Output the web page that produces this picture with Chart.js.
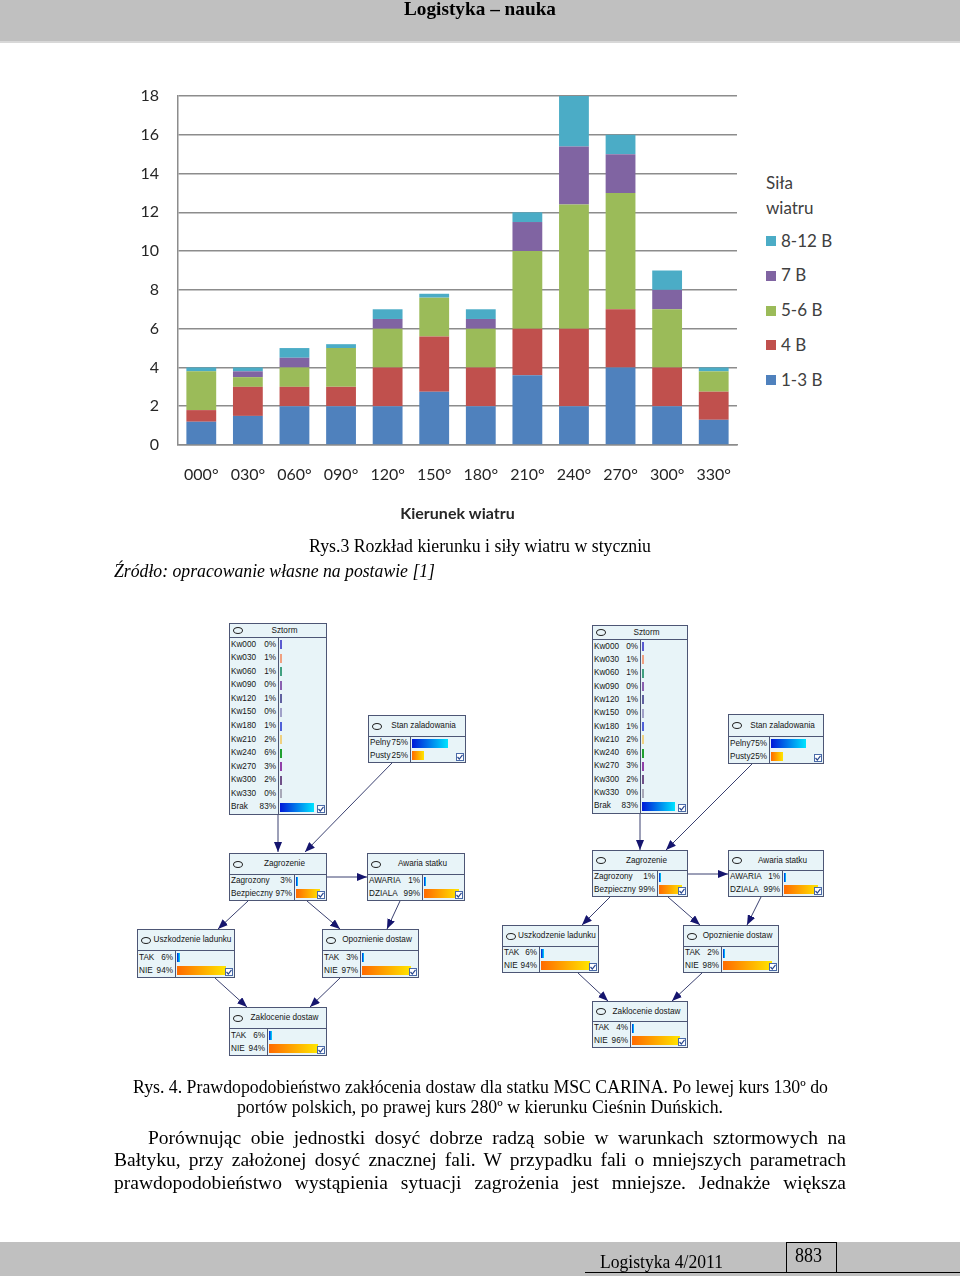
<!DOCTYPE html>
<html lang="pl">
<head>
<meta charset="utf-8">
<title>Rozkład kierunku i siły wiatru</title>
<script src="https://cdn.jsdelivr.net/npm/chart.js@4.4.0/dist/chart.umd.min.js"></script>
<style>
html,body{margin:0;padding:0;background:#fff;}
#page{position:relative;width:960px;height:1276px;overflow:hidden;background:#fff;font-family:'Liberation Serif','Times New Roman',serif;color:#000;}
.t{position:absolute;white-space:nowrap;line-height:1;transform-origin:0 0;}
#hdr{position:absolute;left:0;top:0;width:960px;height:41px;background:#c0c0c0;border-bottom:2px solid #d8d8d8;}
#ftr{position:absolute;left:0;top:1242px;width:960px;height:34px;background:#c0c0c0;}
#ftrline{position:absolute;left:585px;top:1272px;width:375px;height:1px;background:#000;}
#pgbox{position:absolute;left:786px;top:1242px;width:49px;height:30px;border:1px solid #000;border-bottom:none;}
#chartWrap{position:absolute;left:110px;top:80px;width:650px;height:450px;}
#legend{position:absolute;left:0;top:0;width:960px;height:0;font-family:Lato,sans-serif;color:#404040;}
.lg{position:absolute;white-space:nowrap;font-size:17px;line-height:1;}
.sw{position:absolute;width:10px;height:10px;}
.node{position:absolute;background:#e8f4f8;border:1px solid #4d5675;box-sizing:border-box;font-family:'Liberation Sans',Arial,sans-serif;font-size:8.2px;color:#151515;}
.nh{position:absolute;left:0;top:0;right:0;border-bottom:1px solid #4d5675;}
.nh .ell{position:absolute;left:3px;width:10px;height:7px;border:1px solid #222;border-radius:50%;box-sizing:border-box;}
.nh .tt{position:absolute;left:14px;right:1px;text-align:center;white-space:nowrap;line-height:1;}
.lc{position:absolute;left:0;border-right:1px solid #4d5675;box-sizing:border-box;}
.rl{position:absolute;left:1px;white-space:nowrap;line-height:1;}
.rp{position:absolute;white-space:nowrap;line-height:1;text-align:right;}
.bar{position:absolute;height:9px;}
.cb{position:absolute;right:1px;bottom:1px;width:8px;height:8px;background:#fff;border:1px solid #4a6aa8;box-sizing:border-box;}
#arrows{position:absolute;left:0;top:0;width:960px;height:1276px;pointer-events:none;}
</style>
</head>
<body>
<div id="page">
  <div id="hdr"></div>
  <div id="chartWrap"><canvas id="c"></canvas></div>
  <div id="legend"></div>
  <div id="nodes"></div>
  <svg id="arrows" xmlns="http://www.w3.org/2000/svg">
    <defs>
      <marker id="ah" markerWidth="10" markerHeight="8" refX="10" refY="4" orient="auto" markerUnits="userSpaceOnUse">
        <path d="M0,0 L10,4 L0,8 z" fill="#15156e"/>
      </marker>
    </defs>
  </svg>
  <div id="ftr"></div>
  <div id="pgbox"></div>
  <div id="ftrline"></div>
</div>
<script>
// ---------------- chart data ----------------
const directions = ['000°','030°','060°','090°','120°','150°','180°','210°','240°','270°','300°','330°'];
const force13  = [1.2, 1.5, 2.0, 2.0, 2.0, 2.75, 2.0, 3.6, 2.0, 4.0, 2.0, 1.3];
const force4   = [0.6, 1.5, 1.0, 1.0, 2.0, 2.85, 2.0, 2.4, 4.0, 3.0, 2.0, 1.45];
const force56  = [2.0, 0.5, 1.0, 2.0, 2.0, 2.0, 2.0, 4.0, 6.4, 6.0, 3.0, 1.05];
const force7   = [0.0, 0.3, 0.5, 0.0, 0.5, 0.0, 0.5, 1.5, 3.0, 2.0, 1.0, 0.0];
const force812 = [0.2, 0.2, 0.5, 0.2, 0.5, 0.2, 0.5, 0.5, 2.6, 1.0, 1.0, 0.2];
const seriesNames = ['1-3 B','4 B','5-6 B','7 B','8-12 B'];
const yTickMax = 18;
const yTickStep = 2;

// ---------------- network data ----------------
const sztormStates = ['Kw000','Kw030','Kw060','Kw090','Kw120','Kw150','Kw180','Kw210','Kw240','Kw270','Kw300','Kw330','Brak'];
const sztormPct    = [0,1,1,0,1,0,1,2,6,3,2,0,83];
const stanStates   = ['Pelny','Pusty'];
const stanPct      = [75,25];
const zagrStates   = ['Zagrozony','Bezpieczny'];
const zagrPctLeft  = [3,97];
const zagrPctRight = [1,99];
const awariaStates = ['AWARIA','DZIALA'];
const awariaPct    = [1,99];
const takNie       = ['TAK','NIE'];
const uszkPct      = [6,94];
const opozPctLeft  = [3,97];
const opozPctRight = [2,98];
const zaklPctLeft  = [6,94];
const zaklPctRight = [4,96];

// ---------------- chart ----------------
const colors = ['#4F81BD','#C0504D','#9BBB59','#8064A2','#4BACC6'];
const seriesValues = [force13, force4, force56, force7, force812];
Chart.defaults.font.family = 'Lato, sans-serif';
const gridCol = '#8c8c8c';
const chart = new Chart(document.getElementById('c'), {
  type: 'bar',
  data: {
    labels: directions,
    datasets: seriesNames.map((n, i) => ({label: n, data: seriesValues[i], backgroundColor: colors[i], borderWidth: 0}))
  },
  options: {
    responsive: true, maintainAspectRatio: false, animation: false,
    layout: {padding: {top: 16, right: 23, left: 0, bottom: 0}},
    datasets: {bar: {barPercentage: 0.64, categoryPercentage: 1}},
    plugins: {legend: {display: false}, tooltip: {enabled: false}},
    scales: {
      x: {
        stacked: true,
        grid: {display: false, drawTicks: false},
        border: {display: true, color: gridCol, width: 1.5},
        ticks: {padding: 20, font: {size: 16}, color: '#262626', maxRotation: 0, autoSkip: false},
        title: {display: true, text: 'Kierunek wiatru', font: {size: 16, weight: 'bold'}, color: '#262626', padding: {top: 0, bottom: 7}},
        afterFit(s) { s.height = 85; s.paddingLeft = 0; s.paddingRight = 0; }
      },
      y: {
        stacked: true, min: 0, max: yTickMax,
        ticks: {stepSize: yTickStep, padding: 19, font: {size: 16}, color: '#262626'},
        grid: {color: gridCol, lineWidth: 1.5, drawTicks: false},
        border: {display: true, color: gridCol, width: 1.5},
        afterFit(s) { s.width = 68; s.paddingTop = 0; s.paddingBottom = 0; }
      }
    }
  }
});

// HTML legend built from the chart datasets (reversed, like the source)
(function buildLegend() {
  const lg = document.getElementById('legend');
  const mk = (txt, left, yc) => { const s = document.createElement('div'); s.className = 'lg'; s.textContent = txt; s.style.left = left + 'px'; s.style.top = (yc - 9.5) + 'px'; lg.appendChild(s); };
  mk('Siła', 766, 183);
  mk('wiatru', 766, 208);
  const ds = chart.data.datasets.slice().reverse();
  ds.forEach((d, i) => {
    const yc = 241 + i * 34.75;
    const sw = document.createElement('div'); sw.className = 'sw';
    sw.style.left = '766px'; sw.style.top = (yc - 5) + 'px'; sw.style.background = d.backgroundColor;
    lg.appendChild(sw);
    mk(d.label, 781, yc);
  });
})();

// ---------------- page text ----------------
const page = document.getElementById('page');
function addText(txt, x, yc, fs, targetW, style) {
  const s = document.createElement('span');
  s.className = 't';
  s.textContent = txt;
  s.style.fontSize = fs + 'px';
  s.style.left = x + 'px';
  s.style.top = (yc - 0.55 * fs) + 'px';
  if (style) Object.assign(s.style, style);
  page.appendChild(s);
  const w = s.getBoundingClientRect().width;
  if (targetW && w > 0) s.style.transform = 'scaleX(' + (targetW / w) + ')';
  return s;
}
function addJust(txt, x, yc, fs, targetW) {
  const s = document.createElement('span');
  s.className = 't';
  s.textContent = txt;
  s.style.fontSize = fs + 'px';
  s.style.left = x + 'px';
  s.style.top = (yc - 0.55 * fs) + 'px';
  page.appendChild(s);
  const w = s.getBoundingClientRect().width;
  const spaces = (txt.match(/ /g) || []).length;
  if (w > targetW) s.style.transform = 'scaleX(' + (targetW / w) + ')';
  else if (spaces) s.style.wordSpacing = ((targetW - w) / spaces) + 'px';
  return s;
}
addText('Logistyka – nauka', 404, 9, 19, 152, {fontWeight: 'bold'});
addText('Rys.3 Rozkład kierunku i siły wiatru w styczniu', 309, 547, 18, 342);
addText('Źródło: opracowanie własne na postawie [1]', 114, 572, 18, 321, {fontStyle: 'italic'});
addText('Rys. 4. Prawdopodobieństwo zakłócenia dostaw dla statku MSC CARINA. Po lewej kurs 130º do', 133, 1088, 18, 695);
addText('portów polskich, po prawej kurs 280º w kierunku Cieśnin Duńskich.', 237, 1108, 18, 486);
addJust('Porównując obie jednostki dosyć dobrze radzą sobie w warunkach sztormowych na', 148, 1139, 19.5, 698);
addJust('Bałtyku, przy założonej dosyć znacznej fali. W przypadku fali o mniejszych parametrach', 114, 1161, 19.5, 732);
addJust('prawdopodobieństwo wystąpienia sytuacji zagrożenia jest mniejsze. Jednakże większa', 114, 1184, 19.5, 732);
addText('Logistyka 4/2011', 600, 1263, 18.5, 123);
addText('883', 795, 1256, 20, 27);

// ---------------- Bayesian network nodes ----------------
const sztormBarColors = ['#5a5ad0','#f0a080','#40a080','#8a60b0','#6060a0','#a0a0c8','#5060d8','#f0d080','#20a030','#9040a8','#705088','#a8a8b8'];
const blueGrad = 'linear-gradient(to right,#0018d8,#00e4ff)';
const orangeGrad = 'linear-gradient(to right,#ff6a00,#ffe600)';
function renderNode(L, title, states, pcts, isSztorm) {
  const host = document.getElementById('nodes');
  const d = document.createElement('div'); d.className = 'node';
  Object.assign(d.style, {left: L.x + 'px', top: L.y + 'px', width: L.w + 'px', height: L.h + 'px'});
  const h = document.createElement('div'); h.className = 'nh'; h.style.height = (L.hh - 1) + 'px';
  const e = document.createElement('span'); e.className = 'ell'; e.style.top = ((L.hh - 8) / 2) + 'px'; h.appendChild(e);
  const tt = document.createElement('span'); tt.className = 'tt'; tt.textContent = title; tt.style.top = ((L.hh - 9) / 2) + 'px'; h.appendChild(tt);
  d.appendChild(h);
  const lc = document.createElement('div'); lc.className = 'lc';
  Object.assign(lc.style, {top: L.hh + 'px', width: L.lw + 'px', bottom: '0px'});
  d.appendChild(lc);
  const inner = L.h - 2 - L.hh;
  const rowH = inner / states.length;
  const maxBar = L.w - L.lw - 8;
  states.forEach((st, i) => {
    const top = L.hh + i * rowH;
    const a = document.createElement('span'); a.className = 'rl'; a.textContent = st; a.style.top = (top + (rowH - 8) / 2) + 'px'; d.appendChild(a);
    const p = document.createElement('span'); p.className = 'rp'; p.textContent = pcts[i] + '%';
    p.style.top = (top + (rowH - 8) / 2) + 'px'; p.style.right = (L.w - L.lw + 1) + 'px'; d.appendChild(p);
    const b = document.createElement('div'); b.className = 'bar';
    b.style.left = (L.lw + 1) + 'px'; b.style.top = (top + (rowH - 9) / 2) + 'px';
    b.style.width = Math.max(2, pcts[i] / 100 * maxBar) + 'px';
    if (isSztorm) b.style.background = i < sztormBarColors.length ? sztormBarColors[i] : blueGrad;
    else b.style.background = i === 0 ? blueGrad : orangeGrad;
    d.appendChild(b);
  });
  const cb = document.createElement('div'); cb.className = 'cb';
  cb.innerHTML = '<svg width="6" height="6" viewBox="0 0 6 6" style="position:absolute;left:0;top:0"><polyline points="0.5,3 2.3,5 5.5,0.8" fill="none" stroke="#2a4a90" stroke-width="1.2"/></svg>';
  d.appendChild(cb);
  host.appendChild(d);
}
// layouts (positions / sizes)
const netLeft = {
  sztorm: {x:229, y:623, w:98, h:192, hh:14, lw:49},
  stan:   {x:368, y:715, w:98, h:48, hh:21, lw:42},
  zagr:   {x:229, y:853, w:98, h:48, hh:21, lw:65},
  awaria: {x:367, y:853, w:98, h:48, hh:21, lw:55},
  uszk:   {x:137, y:929, w:98, h:49, hh:21, lw:38},
  opoz:   {x:322, y:929, w:97, h:49, hh:21, lw:38},
  zakl:   {x:229, y:1007, w:98, h:49, hh:21, lw:38}
};
const netRight = {
  sztorm: {x:592, y:625, w:96, h:189, hh:14, lw:48},
  stan:   {x:728, y:714, w:96, h:50, hh:22, lw:41},
  zagr:   {x:592, y:850, w:96, h:47, hh:20, lw:65},
  awaria: {x:728, y:850, w:96, h:47, hh:20, lw:54},
  uszk:   {x:502, y:925, w:97, h:48, hh:21, lw:37},
  opoz:   {x:683, y:925, w:96, h:48, hh:21, lw:38},
  zakl:   {x:592, y:1001, w:96, h:47, hh:20, lw:38}
};
function renderNet(N, zagrPct, opozPct, zaklPct) {
  renderNode(N.sztorm, 'Sztorm', sztormStates, sztormPct, true);
  renderNode(N.stan, 'Stan zaladowania', stanStates, stanPct, false);
  renderNode(N.zagr, 'Zagrozenie', zagrStates, zagrPct, false);
  renderNode(N.awaria, 'Awaria statku', awariaStates, awariaPct, false);
  renderNode(N.uszk, 'Uszkodzenie ladunku', takNie, uszkPct, false);
  renderNode(N.opoz, 'Opoznienie dostaw', takNie, opozPct, false);
  renderNode(N.zakl, 'Zaklocenie dostaw', takNie, zaklPct, false);
}
renderNet(netLeft, zagrPctLeft, opozPctLeft, zaklPctLeft);
renderNet(netRight, zagrPctRight, opozPctRight, zaklPctRight);

// arrows (connector geometry)
const links = [
  [278,815,278,852],[392,763,305,852],[327,877,367,877],[248,901,218,929],[307,901,340,929],[400,901,387,929],[215,978,247,1007],[340,978,310,1007],
  [640,814,640,850],[752,764,666,850],[688,874,728,874],[610,897,582,925],[668,897,700,925],[761,897,747,925],[578,973,608,1001],[702,973,672,1001]
];
const svg = document.getElementById('arrows');
links.forEach(l => {
  const ln = document.createElementNS('http://www.w3.org/2000/svg', 'line');
  ln.setAttribute('x1', l[0]); ln.setAttribute('y1', l[1]); ln.setAttribute('x2', l[2]); ln.setAttribute('y2', l[3]);
  ln.setAttribute('stroke', '#3a4070'); ln.setAttribute('stroke-width', '1');
  ln.setAttribute('marker-end', 'url(#ah)');
  svg.appendChild(ln);
});
</script>
</body>
</html>
